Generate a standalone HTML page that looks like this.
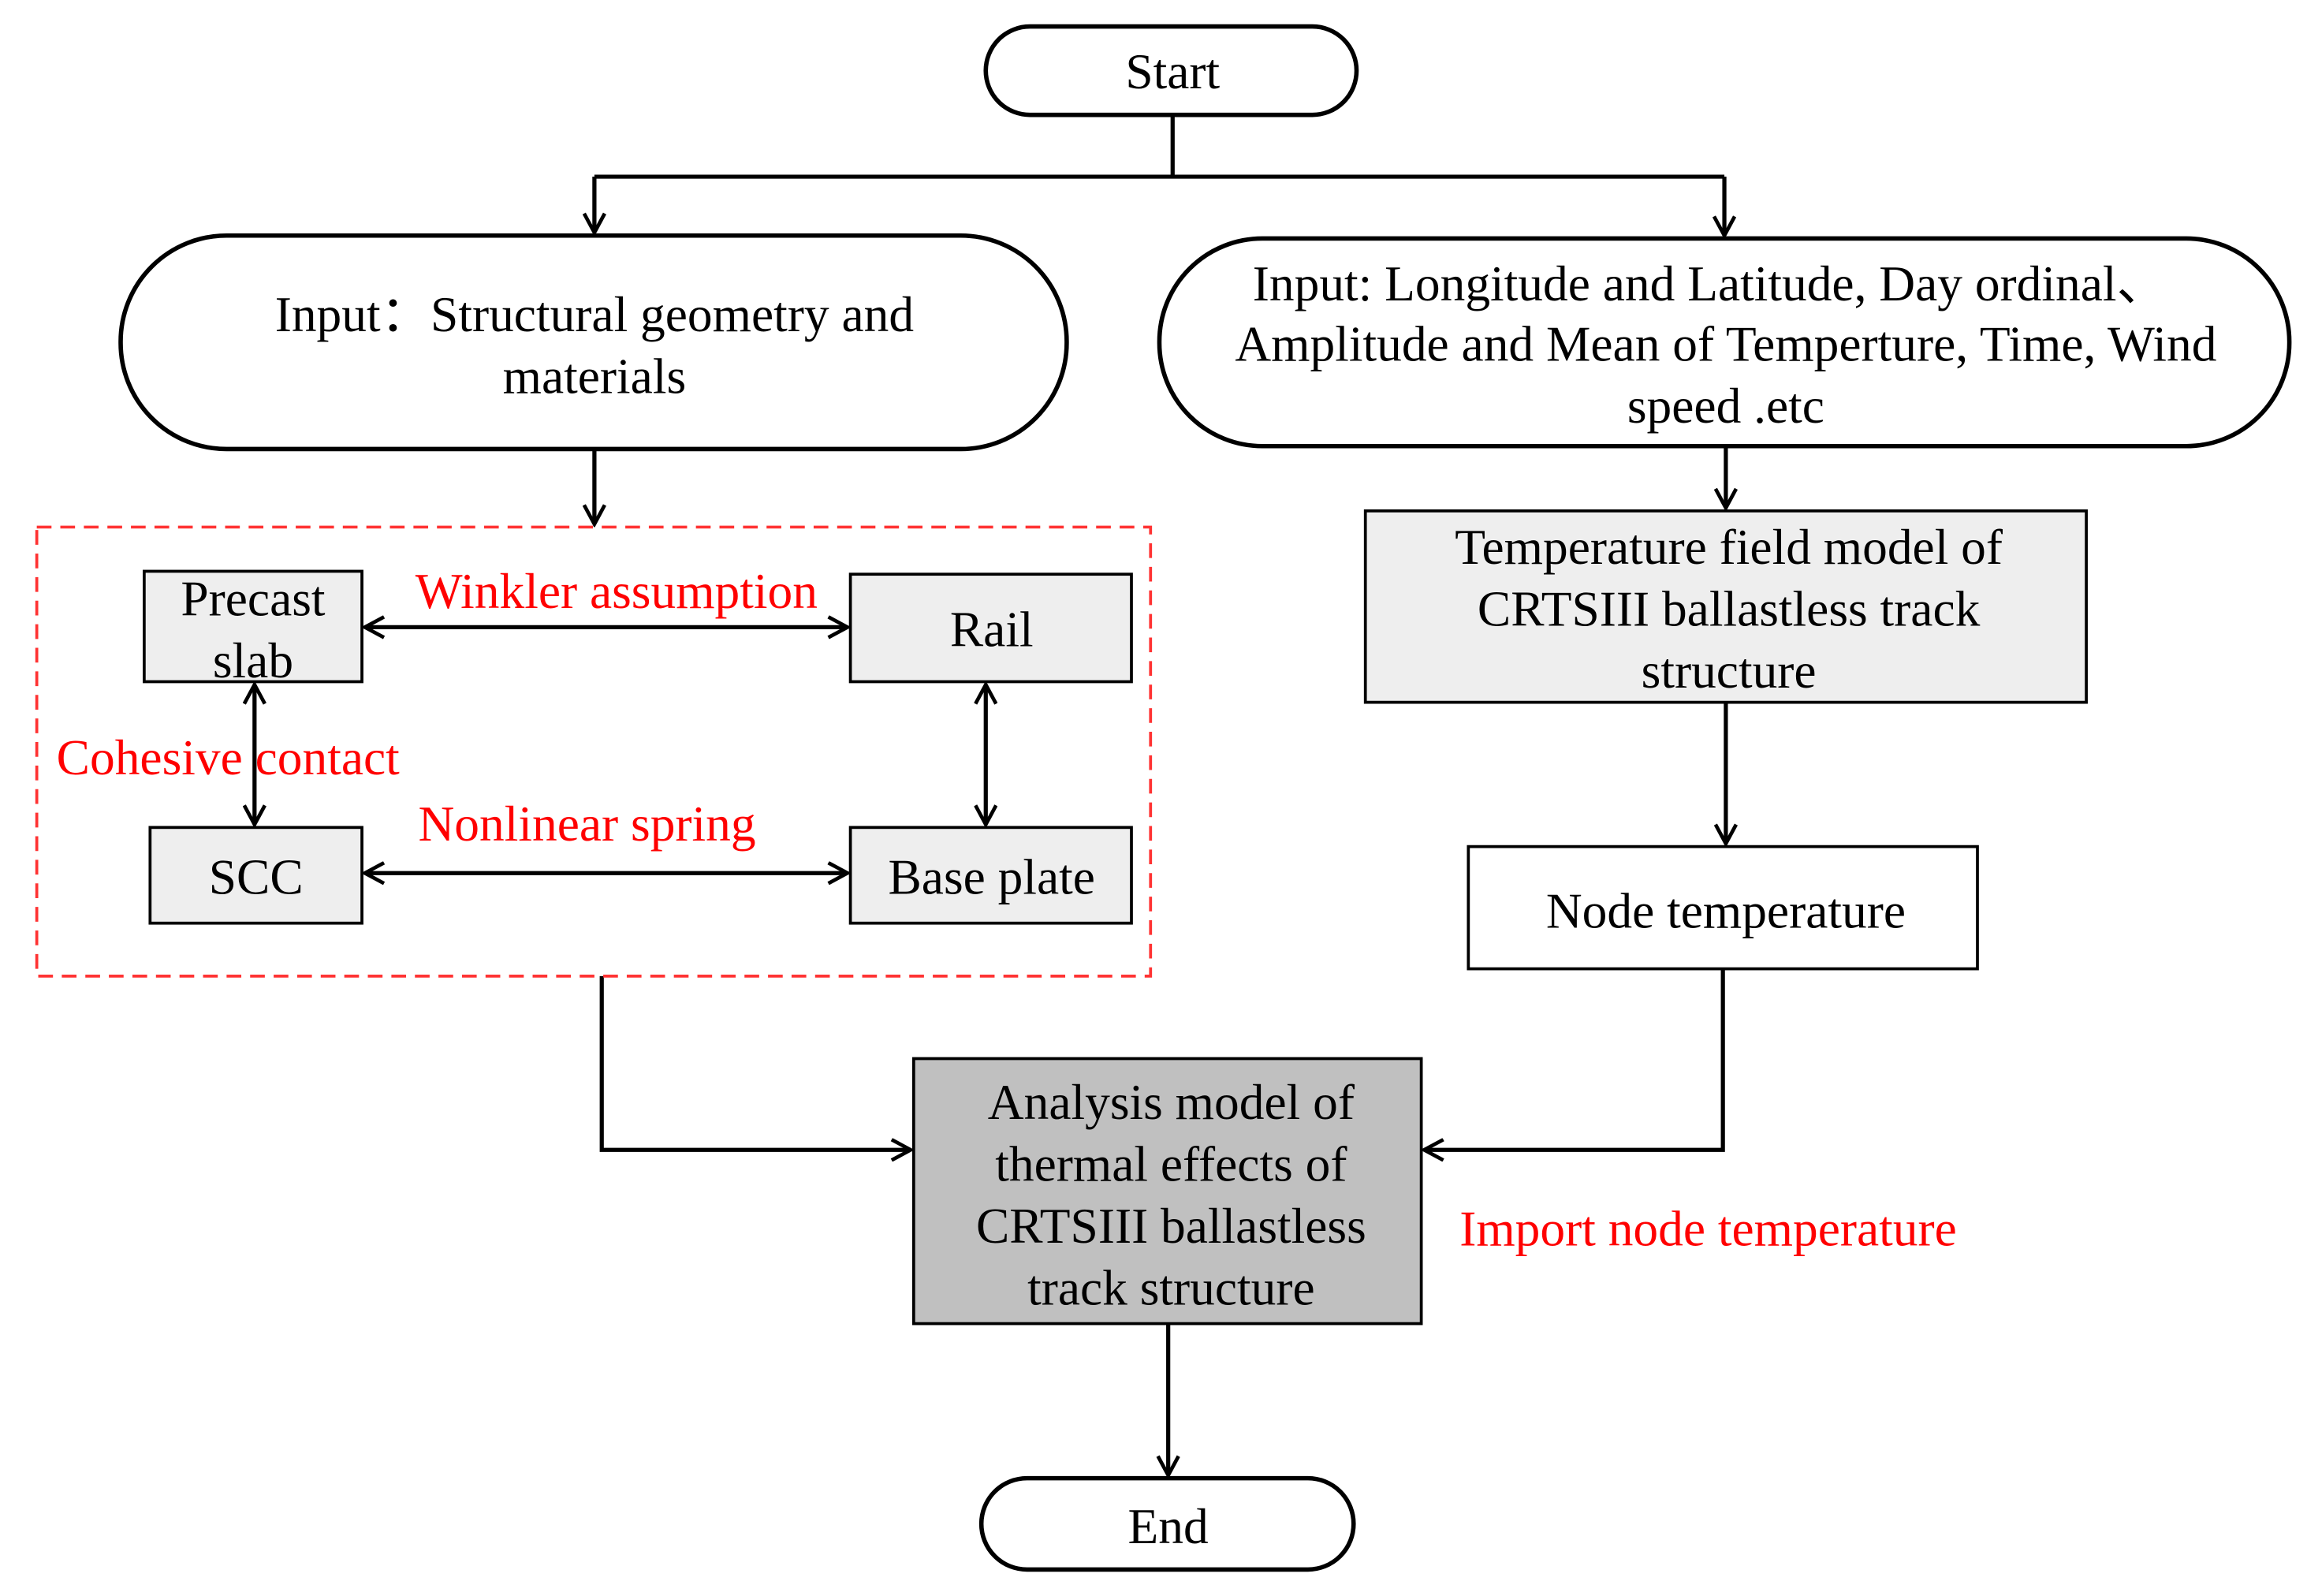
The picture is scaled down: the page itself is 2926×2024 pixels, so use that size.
<!DOCTYPE html>
<html><head><meta charset="utf-8"><style>html,body{margin:0;padding:0;background:#fff}svg{display:block}</style></head>
<body>
<svg width="2926" height="2024" viewBox="0 0 1568 1084" preserveAspectRatio="none" xmlns="http://www.w3.org/2000/svg" font-family="'Liberation Serif', serif" font-size="34">
<defs>
<marker id="a" markerWidth="16" markerHeight="16" refX="14" refY="8" orient="auto-start-reverse" markerUnits="userSpaceOnUse"><path d="M1,1 L14,8 L1,15" fill="none" stroke="#000" stroke-width="2.5"/></marker>
</defs>
<g fill="none" stroke="#000" stroke-width="3">
<rect x="670" y="18" width="252" height="60" rx="30"/>
<rect x="82" y="160" width="643" height="145" rx="72"/>
<rect x="788" y="162" width="768" height="141" rx="70"/>
<rect x="667" y="1004" width="253" height="62" rx="31"/>
</g>
<g stroke="#000" stroke-width="2.8" fill="none">
<path d="M797,78 V120 M404,120 H1172"/>
<path d="M404,120 V158" marker-end="url(#a)"/>
<path d="M1172,120 V160" marker-end="url(#a)"/>
<path d="M404,305 V356" marker-end="url(#a)"/>
<path d="M1173,303 V345" marker-end="url(#a)"/>
<path d="M1173,477 V573" marker-end="url(#a)"/>
<path d="M1171,658 V781 H968" marker-end="url(#a)"/>
<path d="M409,663 V781 H619" marker-end="url(#a)"/>
<path d="M794,899 V1002" marker-end="url(#a)"/>
<path d="M248,426 H576" marker-start="url(#a)" marker-end="url(#a)"/>
<path d="M248,593 H576" marker-start="url(#a)" marker-end="url(#a)"/>
<path d="M173,465 V560" marker-start="url(#a)" marker-end="url(#a)"/>
<path d="M670,465 V560" marker-start="url(#a)" marker-end="url(#a)"/>
</g>
<rect x="25" y="358" width="757" height="305" fill="none" stroke="#ff3333" stroke-width="2" stroke-dasharray="10,6"/>
<g stroke="#000" stroke-width="2" fill="#eeeeee">
<rect x="98" y="388" width="148" height="75"/>
<rect x="578" y="390" width="191" height="73"/>
<rect x="102" y="562" width="144" height="65"/>
<rect x="578" y="562" width="191" height="65"/>
<rect x="928" y="347" width="490" height="130"/>
<rect x="998" y="575" width="346" height="83" fill="#fff"/>
<rect x="621" y="719" width="345" height="180" fill="#c0c0c0"/>
</g>
<g text-anchor="middle" fill="#000">
<text x="797" y="60">Start</text>
<text x="404" y="225">Input：Structural geometry and</text>
<text x="404" y="267">materials</text>
<text x="1162" y="204">Input: Longitude and Latitude, Day ordinal、</text>
<text x="1173" y="245">Amplitude and Mean of Temperture, Time, Wind</text>
<text x="1173" y="287">speed .etc</text>
<text x="172" y="418">Precast</text>
<text x="172" y="460">slab</text>
<text x="674" y="439">Rail</text>
<text x="174" y="607">SCC</text>
<text x="674" y="607">Base plate</text>
<text x="1175" y="383">Temperature field model of</text>
<text x="1175" y="425">CRTSIII ballastless track</text>
<text x="1175" y="467">structure</text>
<text x="1173" y="630">Node temperature</text>
<text x="796" y="760">Analysis model of</text>
<text x="796" y="802">thermal effects of</text>
<text x="796" y="844">CRTSIII ballastless</text>
<text x="796" y="886">track structure</text>
<text x="794" y="1048">End</text>
</g>
<g text-anchor="middle" fill="#ff0000">
<text x="419" y="413">Winkler assumption</text>
<text x="155" y="526">Cohesive contact</text>
<text x="399" y="571">Nonlinear spring</text>
<text x="1161" y="846">Import node temperature</text>
</g>
</svg>
</body></html>
